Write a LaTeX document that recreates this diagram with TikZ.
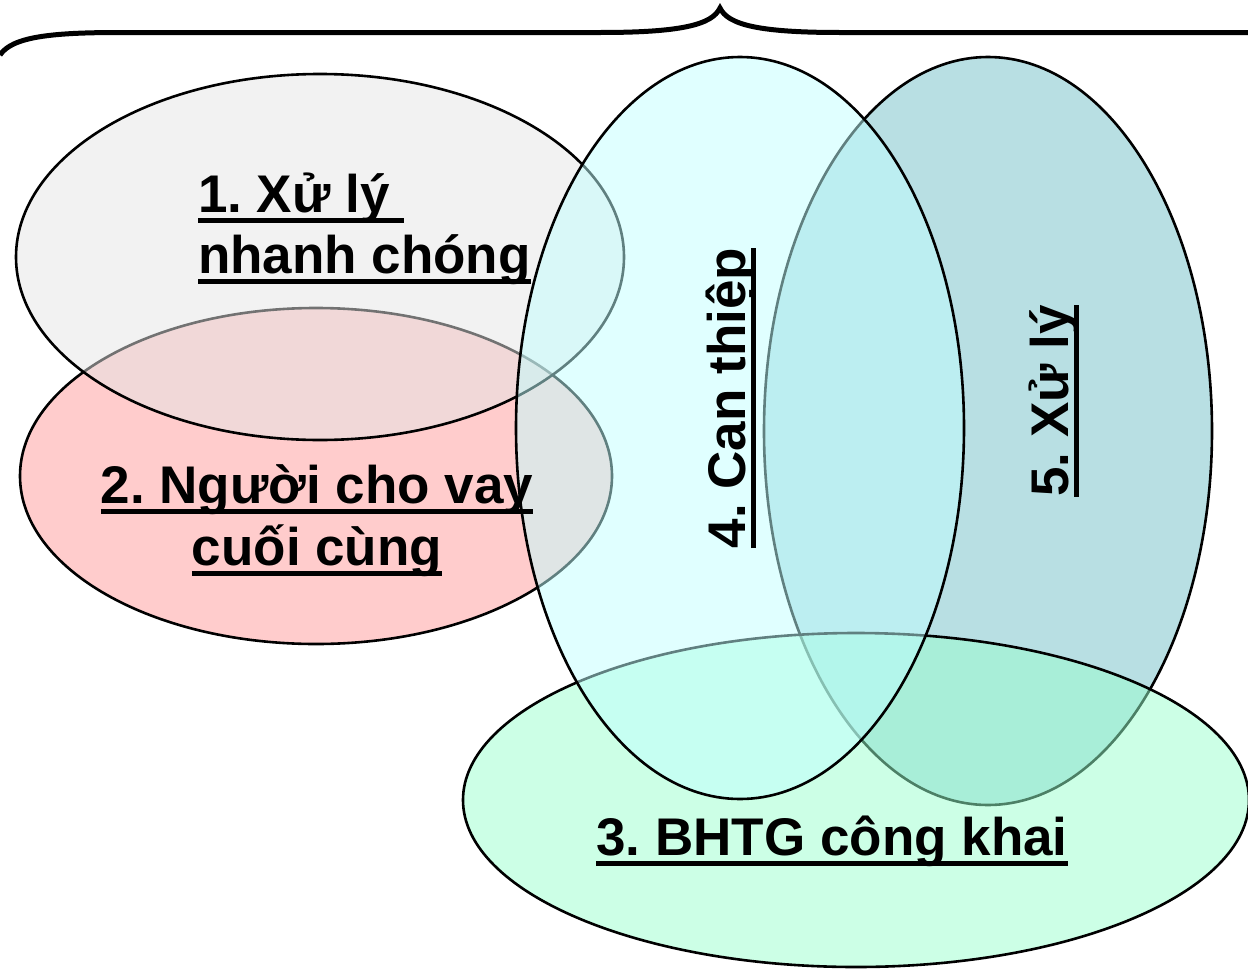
\documentclass[tikz,border=0pt]{standalone}
\usepackage{fontspec}
\setmainfont{Liberation Sans}
\frenchspacing
\newsavebox\ulbox
\newcommand\ulbar[1]{\sbox\ulbox{#1}\rlap{\rule[-11bp]{\wd\ulbox}{5bp}}\usebox\ulbox}
\definecolor{cone}{RGB}{229,229,229}
\definecolor{ctwo}{RGB}{255,153,153}
\definecolor{cthree}{RGB}{153,255,205}
\definecolor{cfour}{RGB}{193,255,255}
\definecolor{cfive}{RGB}{113,191,199}
\tikzset{
  venn/.style={draw=black, line width=2.6bp, fill opacity=0.5},
  lbl/.style={inner sep=0pt, outer sep=0pt, font=\fontsize{53bp}{62bp}\selectfont\bfseries, text=black},
  bracepath/.style={draw=black, line width=5bp}
}
\begin{document}
\begin{tikzpicture}[x=1bp, y=-1bp]
\useasboundingbox (0,0) rectangle (1248,969);
% ellipses (drawing order 2,1,5,3,4)
\path[venn, fill=ctwo] (316,476) ellipse [x radius=296, y radius=168];
\path[venn, fill=cone] (320,257) ellipse [x radius=304, y radius=183];
\path[venn, fill=cfive] (988,431) ellipse [x radius=224, y radius=374];
\path[venn, fill=cthree] (856,800) ellipse [x radius=393, y radius=167];
\path[venn, fill=cfour] (740,428) ellipse [x radius=224, y radius=371];
% brace
\draw[bracepath] (0,55) .. controls (12,37) and (50,32.5) .. (120,32.5) -- (600,32.5)
  .. controls (680,32.5) and (712,25) .. (720,8)
  .. controls (728,25) and (760,32.5) .. (840,32.5) -- (1248,32.5);
% labels
\node[lbl, anchor=base west] (t1a) at (198,212) {\ulbar{1. Xử lý }};
\node[lbl, anchor=base west] (t1b) at (198,273) {\ulbar{nhanh chóng}};
\node[lbl, anchor=base] (t2a) at (317,503) {\ulbar{2. Người cho vay}};
\node[lbl, anchor=base] (t2b) at (317,565) {\ulbar{cuối cùng}};
\node[lbl, anchor=base] (t3) at (832,855) {\ulbar{3. BHTG công khai}};
\node[lbl, anchor=base, rotate=90] (t4) at (745,398) {\ulbar{4. Can thiệp}};
\node[lbl, anchor=base, rotate=90] (t5) at (1068,401) {\ulbar{5. Xử lý}};
\end{tikzpicture}
\end{document}
